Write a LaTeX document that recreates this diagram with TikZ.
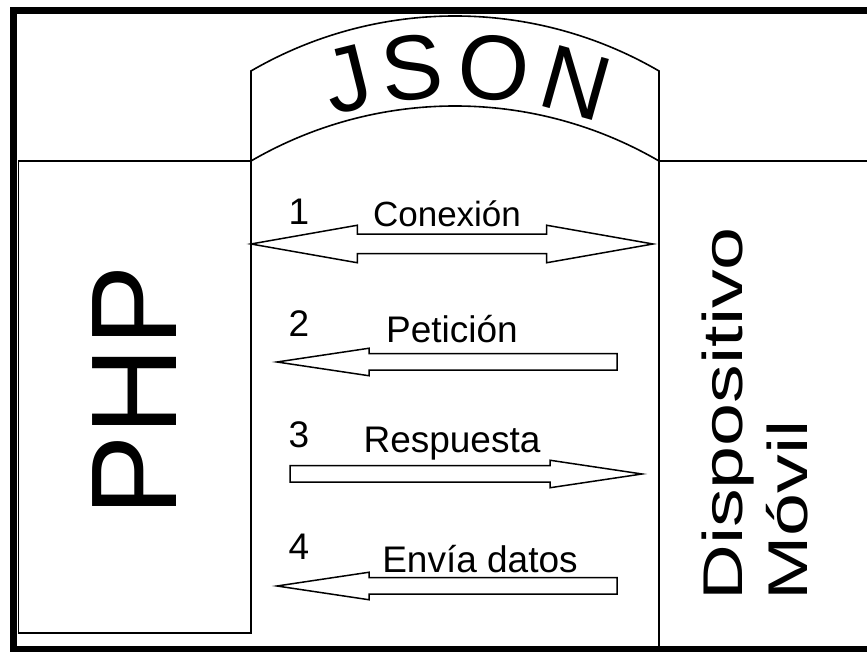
\documentclass[tikz,border=0pt]{standalone}
\usepackage{fontspec,graphicx}
\setmainfont{Liberation Sans}
\usetikzlibrary{shapes.arrows}
\tikzset{caja/.style={line width=1.6pt},
  flecha/.style={draw,line width=1.5pt,fill=white,inner xsep=0pt,outer sep=0pt},
  haciader/.style={flecha,single arrow,anchor=tip,inner ysep=7.5pt,minimum width=26pt,single arrow head extend=5.5pt,single arrow tip angle=17},
  haciaizq/.style={haciader,shape border rotate=180},
  num/.style={anchor=base,font=\fontsize{37}{40}\selectfont},
  json/.style={anchor=base,font=\fontsize{92}{92}\selectfont},
  vertical/.style={rotate=90,anchor=base west,inner sep=0pt,font=\fontsize{56}{56}\selectfont}}

\begin{document}
\begin{tikzpicture}[x=1pt,y=1pt]
\useasboundingbox (0,0) rectangle (867,652);
% marco
\draw[line width=7pt] (13.5,2.5) rectangle (900,641.5);
% servidor y dispositivo
\draw[caja] (18.5,19) rectangle (251,491);
\draw[caja] (659,2.5) rectangle (900,491);
% arco del JSON
\def\R{405.8}
\draw[caja] (251,491) arc[start angle=120.18,end angle=59.82,radius=\R] -- ++(0,90)
  arc[start angle=59.82,end angle=120.18,radius=\R] -- cycle;
\begin{scope}[shift={(455,140.2)}]
\foreach \l/\a in {J/104,S/95.6,O/85,N/74.3}{\node[json,rotate=\a-90] (json-\l) at (\a:414) {\l};}
\end{scope}
\node[rotate=90,font=\fontsize{122}{122}\selectfont] (php) at (135,261) {PHP};
\node[vertical] (dispositivo) at (742,51) {\scalebox{1.38}[1]{Dispositivo}};
\node[vertical] (movil) at (807,51) {\scalebox{1.38}[1]{Móvil}};
% mensajes
\node[flecha,double arrow,inner ysep=9pt,minimum width=36pt,double arrow head extend=9pt,double arrow tip angle=20,minimum height=402pt] (conexion) at (452,408) {};
\node[haciaizq,minimum height=340pt] (peticion) at (277,290) {};
\node[haciader,minimum height=352pt] (respuesta) at (642,178) {};
\node[haciaizq,minimum height=340pt] (envia) at (277,66) {};
\foreach \n/\y in {1/427,2/315,3/204,4/92}{\node[num] (n\n) at (299,\y) {\n};}
\node[num,font=\fontsize{35}{40}\selectfont] (t-conexion) at (447,425) {Conexión};
\node[num] (t-peticion) at (452,309) {Petición};
\node[num] (t-respuesta) at (452,199) {Respuesta};
\node[num] (t-envia) at (480,79) {Envía datos};
\end{tikzpicture}
\end{document}
